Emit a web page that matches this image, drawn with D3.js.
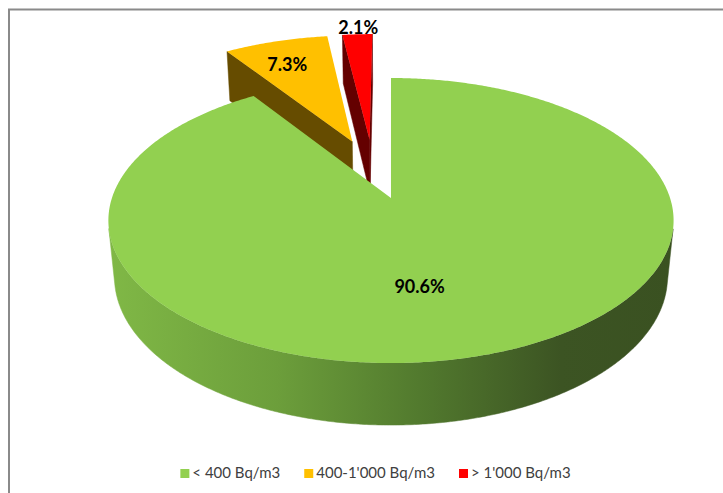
<!DOCTYPE html>
<html>
<head>
<meta charset="utf-8">
<script src="https://cdn.jsdelivr.net/npm/d3@7/dist/d3.min.js"></script>
<style>
  body { margin: 0; background: #fff; }
  svg { display: block; }
</style>
</head>
<body>
<script>
// chart data
var categories = ["< 400 Bq/m3", "400-1'000 Bq/m3", "> 1'000 Bq/m3"];
var shares = [90.6, 7.3, 2.1];
var labels = ["90.6%", "7.3%", "2.1%"];

var topColors = ["#92d050", "#ffc000", "#ff0000"];
var wallColors = ["#4e7a2c", "#664c00", "#640000"];

var W = 723, H = 493;

var svg = d3.select("body").append("svg")
    .attr("width", W)
    .attr("height", H);

// chart frame (only top / left edges fall inside the window)
svg.append("rect")
    .attr("x", 9)
    .attr("y", 9.5)
    .attr("width", 900)
    .attr("height", 900)
    .attr("fill", "none")
    .attr("stroke", "#8a8a8a")
    .attr("stroke-width", 2);

// simple perspective camera for the 3d pie (ground units: radius = 1)
var sinP = 0.498, cosP = Math.sqrt(1 - sinP * sinP);
var focal = 1532, dist = 5.49;
var screenX = 391, screenY = 198;
var target = [0.067, -0.22];      // point the camera looks at
var thick = 0.236;                // pie height
var explode = 0.23;               // every slice pulled out by this much

function project(X, Z, h) {
  var xr = X - target[0], zr = Z - target[1];
  var up = h * cosP + zr * sinP;
  var depth = dist + zr * cosP - h * sinP;
  return [screenX + focal * xr / depth, screenY - focal * up / depth];
}
var cam = [target[0], target[1] - dist * cosP];

var pie = d3.pie().sort(null).startAngle(0).endAngle(2 * Math.PI);
var arcs = pie(shares);

arcs.forEach(function(a, i) {
  var mid = (a.startAngle + a.endAngle) / 2;
  a.index = i;
  a.cx = explode * Math.sin(mid);
  a.cz = explode * Math.cos(mid);
  a.mid = mid;
});

function rim(a, t, h) {
  return project(a.cx + Math.sin(t), a.cz + Math.cos(t), h);
}
function rimVisible(a, t) {
  var nx = Math.sin(t), nz = Math.cos(t);
  var px = a.cx + nx, pz = a.cz + nz;
  return nx * (cam[0] - px) + nz * (cam[1] - pz) > 0;
}
function wallVisible(a, ang, isStart) {
  var n = isStart ? ang - Math.PI / 2 : ang + Math.PI / 2;
  return Math.sin(n) * (cam[0] - a.cx) + Math.cos(n) * (cam[1] - a.cz) > 0;
}
function samples(a) {
  var n = Math.max(4, Math.ceil((a.endAngle - a.startAngle) / (Math.PI / 360)));
  return d3.range(n + 1).map(function(k) {
    return a.startAngle + (a.endAngle - a.startAngle) * k / n;
  });
}

var line = d3.line().curve(d3.curveLinearClosed);

// green side gradient
var gs = samples(arcs[0]).map(function(t) { return rim(arcs[0], t, 0)[0]; });
var grad = svg.append("defs").append("linearGradient")
    .attr("id", "greenSide")
    .attr("gradientUnits", "userSpaceOnUse")
    .attr("x1", d3.min(gs)).attr("x2", d3.max(gs))
    .attr("y1", 0).attr("y2", 0);
[["0", "#80b846"], ["0.3", "#6c9e3b"], ["0.55", "#527a2e"], ["0.8", "#3c5423"], ["1", "#3a5121"]]
  .forEach(function(s) { grad.append("stop").attr("offset", s[0]).attr("stop-color", s[1]); });

// far slices first
var order = arcs.slice().sort(function(a, b) { return b.cz - a.cz; });

var g = svg.append("g");
order.forEach(function(a) {
  var i = a.index;
  var vTop = project(a.cx, a.cz, 0), vBot = project(a.cx, a.cz, -thick);
  var sideFill = i === 0 ? "url(#greenSide)" : wallColors[i];

  // radial walls
  [[a.startAngle, true], [a.endAngle, false]].forEach(function(w) {
    if (!wallVisible(a, w[0], w[1])) return;
    g.append("path")
      .attr("d", line([vTop, rim(a, w[0], 0), rim(a, w[0], -thick), vBot]))
      .attr("fill", wallColors[i])
      .attr("stroke", wallColors[i])
      .attr("stroke-width", 0.5);
  });

  // outer curved side, only where it faces the camera
  var runs = [], cur = [];
  samples(a).forEach(function(t) {
    if (rimVisible(a, t)) cur.push(t);
    else if (cur.length) { runs.push(cur); cur = []; }
  });
  if (cur.length) runs.push(cur);
  runs.forEach(function(run) {
    if (run.length < 2) return;
    var pts = run.map(function(t) { return rim(a, t, 0); })
      .concat(run.slice().reverse().map(function(t) { return rim(a, t, -thick); }));
    g.append("path")
      .attr("d", line(pts))
      .attr("fill", sideFill)
      .attr("stroke", sideFill)
      .attr("stroke-width", 0.5);
  });

  // top face
  var topPts = [vTop].concat(samples(a).map(function(t) { return rim(a, t, 0); }));
  g.append("path")
    .attr("d", line(topPts))
    .attr("fill", topColors[i]);
});

// data labels
var labelR = [0.6, 0.75, 1.1];
var labelDx = [-25, -6, 2];
var labelDy = [0, 0, 2];
arcs.forEach(function(a, i) {
  var p = project(a.cx + labelR[i] * Math.sin(a.mid), a.cz + labelR[i] * Math.cos(a.mid), 0);
  svg.append("text")
    .attr("x", p[0] + labelDx[i])
    .attr("y", p[1] + labelDy[i])
    .attr("text-anchor", "middle")
    .attr("dominant-baseline", "central")
    .attr("font-family", "Lato, 'Open Sans', sans-serif")
    .attr("font-weight", "bold")
    .attr("font-size", 18)
    .attr("fill", "#000")
    .text(labels[i]);
});

// legend
var legend = svg.append("g");
var items = legend.selectAll("g").data(categories).enter().append("g");
items.append("rect")
    .attr("width", 9).attr("height", 9)
    .attr("y", -9)
    .attr("fill", function(d, i) { return topColors[i]; });
items.append("text")
    .attr("x", 12)
    .attr("font-family", "Lato, 'Open Sans', sans-serif")
    .attr("font-size", 15)
    .attr("fill", "#404040")
    .text(function(d) { return d; });
var xpos = 0;
items.each(function() {
  var w = 12 + this.querySelector("text").getComputedTextLength();
  d3.select(this).attr("transform", "translate(" + xpos + ",0)");
  xpos += w + 24;
});
var total = xpos - 24;
legend.attr("transform", "translate(" + (375.5 - total / 2) + ",478)");
</script>
</body>
</html>
